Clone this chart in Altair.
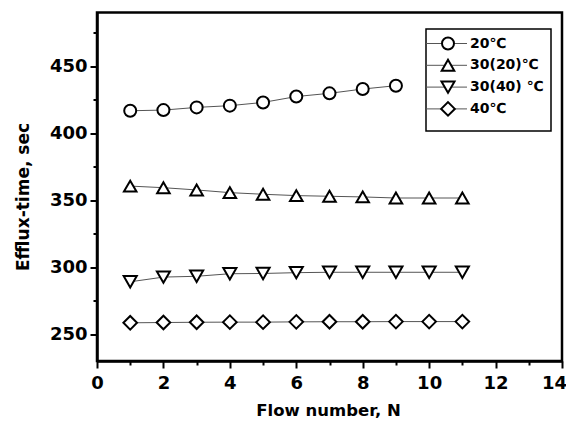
import altair as alt
import pandas as pd

# ---- data ----
series = ["20℃", "30(20)℃", "30(40) ℃", "40℃"]
shapes = ["circle", "triangle-up", "triangle-down", "diamond"]
sizes = [144, 185, 185, 200]

flow_20 = [1, 2, 3, 4, 5, 6, 7, 8, 9]
eff_20 = [416.7, 417.2, 419.2, 420.5, 422.9, 427.3, 429.7, 432.9, 435.4]

flow_all = [1, 2, 3, 4, 5, 6, 7, 8, 9, 10, 11]
eff_30_20 = [360.5, 359.3, 357.6, 355.6, 354.4, 353.4, 352.9, 352.4, 351.6, 351.6, 351.6]
eff_30_40 = [289.1, 292.6, 293.2, 295.1, 295.3, 295.9, 296.2, 296.2, 296.2, 296.2, 296.2]
eff_40 = [258.5, 258.7, 258.9, 259.0, 259.0, 259.2, 259.3, 259.3, 259.4, 259.4, 259.4]

x_major = [0, 2, 4, 6, 8, 10, 12, 14]
x_minor = [1, 3, 5, 7, 9, 11, 13]
y_major = [250, 300, 350, 400, 450]
y_minor = [275, 325, 375, 425, 475]

rows = []
for name, xs, ys in [
    (series[0], flow_20, eff_20),
    (series[1], flow_all, eff_30_20),
    (series[2], flow_all, eff_30_40),
    (series[3], flow_all, eff_40),
]:
    for n, t in zip(xs, ys):
        rows.append({"series": name, "N": n, "t": t})
df = pd.DataFrame(rows)
legend_df = pd.DataFrame({"series": series, "idx": list(range(len(series)))})

FONT = "DejaVu Sans"
xscale = alt.Scale(domain=[0, 14], nice=False, zero=False)
yscale = alt.Scale(domain=[230, 490], nice=False, zero=False)
shape_scale = alt.Scale(domain=series, range=shapes)
size_scale = alt.Scale(domain=series, range=sizes)

base = alt.Chart(df)

lines = base.mark_line(color="#555555", strokeWidth=1).encode(
    x=alt.X("N:Q", scale=xscale,
            axis=alt.Axis(values=x_major, title="Flow number, N", orient="bottom",
                          tickSize=7, labelPadding=6, titleFontSize=16.5,
                          labelFlush=False,
                          labelOffset={"condition": {"test": "datum.value == 14", "value": -8}, "value": 0},
                          titleX=231, titleY=54, titleAlign="center",
                          titleBaseline="alphabetic", format="d")),
    y=alt.Y("t:Q", scale=yscale,
            axis=alt.Axis(values=y_major, title="Efflux-time, sec", orient="left",
                          tickSize=7, labelPadding=3, titleFontSize=17,
                          titleX=-69, titleY=184, titleAlign="center",
                          titleBaseline="alphabetic", format="d")),
    detail="series:N",
)

points = base.mark_point(filled=True, fill="white", stroke="black",
                         strokeWidth=2, opacity=1).encode(
    x=alt.X("N:Q", scale=xscale, axis=None),
    y=alt.Y("t:Q", scale=yscale, axis=None),
    shape=alt.Shape("series:N", scale=shape_scale, legend=None),
    size=alt.Size("series:N", scale=size_scale, legend=None),
)

minor = base.mark_point(opacity=0).encode(
    x=alt.X("N:Q", scale=xscale,
            axis=alt.Axis(values=x_minor, labels=False, tickSize=4, domain=False,
                          title="", orient="bottom")),
    y=alt.Y("t:Q", scale=yscale,
            axis=alt.Axis(values=y_minor, labels=False, tickSize=4, domain=False,
                          title="", orient="left")),
)

# ---- legend drawn inside the plot ----
box = alt.Chart(pd.DataFrame({"a": [0]})).mark_rect(
    fill="white", stroke="black", strokeWidth=1.5
).encode(x=alt.value(329), x2=alt.value(454), y=alt.value(16.5), y2=alt.value(118.5))

leg = alt.Chart(legend_df).transform_calculate(ly="31 + datum.idx * 21.8")

leg_rule = leg.mark_rule(color="#555555", strokeWidth=1).encode(
    x=alt.value(329), x2=alt.value(370), y=alt.Y("ly:Q", scale=None)
)
leg_pts = leg.mark_point(filled=True, fill="white", stroke="black",
                         strokeWidth=2, opacity=1).encode(
    x=alt.value(351),
    y=alt.Y("ly:Q", scale=None),
    shape=alt.Shape("series:N", scale=shape_scale, legend=None),
    size=alt.Size("series:N", scale=size_scale, legend=None),
)
leg_txt = leg.mark_text(align="left", baseline="middle", font=FONT,
                        fontWeight="bold", fontSize=14, color="black").encode(
    x=alt.value(373), y=alt.Y("ly:Q", scale=None), text="series:N"
)

chart = alt.layer(lines, points, minor, box, leg_rule, leg_pts, leg_txt).resolve_axis(
    x="independent", y="independent"
).properties(
    width=465, height=348.5,
    autosize=alt.AutoSizeParams(type="none"),
    padding={"left": 89, "top": 4.5, "right": 4, "bottom": 58},
).configure_view(
    stroke="black", strokeWidth=2.5
).configure_axis(
    domainColor="black", domainWidth=2.5, tickColor="black", tickWidth=2,
    labelFont=FONT, labelFontWeight="bold", labelFontSize=18, labelColor="black",
    titleFont=FONT, titleFontWeight="bold", titleColor="black", grid=False,
)

chart.save("out.html", embed_options={"renderer": "svg", "actions": False})
